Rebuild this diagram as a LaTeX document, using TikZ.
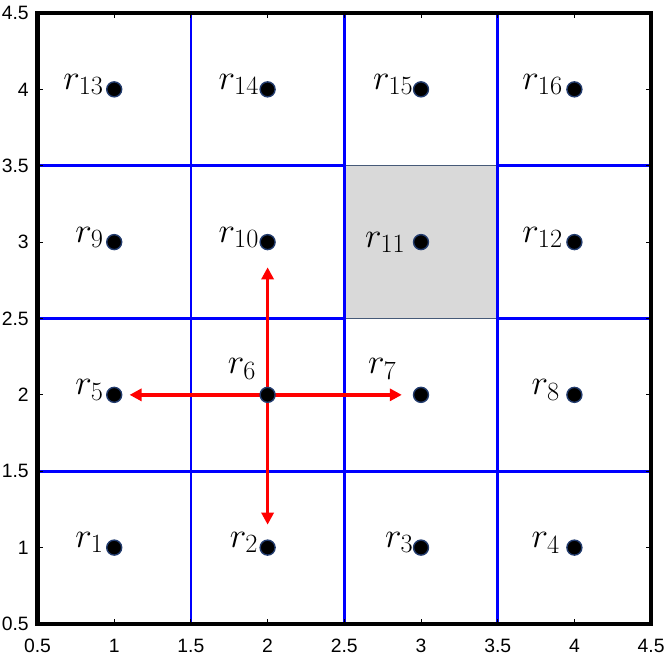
\RequirePackage{fix-cm}
\documentclass[tikz,border=0pt]{standalone}
\usepackage{fontspec}
\newfontfamily\axfont{Liberation Sans}
\usetikzlibrary{arrows.meta}
\definecolor{gridblue}{RGB}{0,0,255}
\definecolor{arrred}{RGB}{255,0,0}
\definecolor{dotedge}{RGB}{35,60,110}
\definecolor{boxfill}{RGB}{217,217,217}
\definecolor{boxedge}{RGB}{70,90,120}
\newcommand{\rl}[1]{$r_{\hbox{\fontsize{15}{17}\selectfont #1}}$}
\pgfdeclarelayer{bg}
\pgfsetlayers{bg,main}
\begin{document}
\begin{tikzpicture}[x=3.068cm,y=3.055cm,
  gridline/.style={draw=gridblue,line width=1.6pt},
  cellbox/.style={fill=boxfill,draw=boxedge,line width=0.6pt},
  redarrow/.style={draw=arrred,line width=1.9pt,-{Triangle[length=0.24cm,width=0.24cm]}},
  ptdot/.style={circle,fill=black,draw=dotedge,line width=0.8pt,minimum size=0.3cm,inner sep=0pt},
  lab/.style={inner sep=0pt,anchor=base east,font=\fontsize{20}{23}\selectfont},
  frame/.style={draw=black,line width=2.5pt},
  tick/.style={draw=black,line width=0.5pt},
  axlab/.style={inner sep=0pt,font=\axfont\fontsize{11}{13}\selectfont}]
\useasboundingbox (0.2555,0.2709) rectangle (4.5841,4.5851);

% points
\node[ptdot] (p1) at (1,1) {};
\node[ptdot] (p2) at (2,1) {};
\node[ptdot] (p3) at (3,1) {};
\node[ptdot] (p4) at (4,1) {};
\node[ptdot] (p5) at (1,2) {};
\node[ptdot] (p6) at (2,2) {};
\node[ptdot] (p7) at (3,2) {};
\node[ptdot] (p8) at (4,2) {};
\node[ptdot] (p9) at (1,3) {};
\node[ptdot] (p10) at (2,3) {};
\node[ptdot] (p11) at (3,3) {};
\node[ptdot] (p12) at (4,3) {};
\node[ptdot] (p13) at (1,4) {};
\node[ptdot] (p14) at (2,4) {};
\node[ptdot] (p15) at (3,4) {};
\node[ptdot] (p16) at (4,4) {};

\coordinate (aU) at (2,2.835);
\coordinate (aD) at (2,1.15);
\coordinate (aL) at (1.10,2);
\coordinate (aR) at (2.875,2);

\begin{pgfonlayer}{bg}
  \draw[cellbox] (2.5,2.5) rectangle (3.5,3.5);
  \draw[gridline] (0.5,1.5) -- (4.5,1.5);
  \draw[gridline] (0.5,2.5) -- (2.5,2.5);
  \draw[gridline] (3.5,2.5) -- (4.5,2.5);
  \draw[gridline] (0.5,3.5) -- (2.5,3.5);
  \draw[gridline] (3.5,3.5) -- (4.5,3.5);
  \foreach \v in {1.5,2.5,3.5} { \draw[gridline] (\v,0.5) -- (\v,4.5); }
  \draw[redarrow] (p6.center) -- (aU);
  \draw[redarrow] (p6.center) -- (aD);
  \draw[redarrow] (p6.center) -- (aL);
  \draw[redarrow] (p6.center) -- (aR);
\end{pgfonlayer}

% labels
\node[lab,xshift=-0.2cm] (l1) at (p1) {\rl{1}};
\node[lab,xshift=-0.18cm] (l2) at (p2) {\rl{2}};
\node[lab,xshift=-0.14cm] (l3) at (p3) {\rl{3}};
\node[lab,xshift=-0.28cm] (l4) at (p4) {\rl{4}};
\node[lab,xshift=-0.2cm] (l5) at (p5) {\rl{5}};
\node[lab,xshift=-0.22cm,yshift=0.42cm] (l6) at (p6) {\rl{6}};
\node[lab,xshift=-0.48cm,yshift=0.42cm] (l7) at (p7) {\rl{7}};
\node[lab,xshift=-0.28cm] (l8) at (p8) {\rl{8}};
\node[lab,xshift=-0.2cm] (l9) at (p9) {\rl{9}};
\node[lab,xshift=-0.16cm] (l10) at (p10) {\rl{10}};
\node[lab,xshift=-0.3cm,yshift=-0.1cm] (l11) at (p11) {\rl{11}};
\node[lab,xshift=-0.22cm] (l12) at (p12) {\rl{12}};
\node[lab,xshift=-0.2cm] (l13) at (p13) {\rl{13}};
\node[lab,xshift=-0.16cm] (l14) at (p14) {\rl{14}};
\node[lab,xshift=-0.14cm] (l15) at (p15) {\rl{15}};
\node[lab,xshift=-0.22cm] (l16) at (p16) {\rl{16}};

% frame and ticks
\foreach \v in {0.5,1,1.5,2,2.5,3,3.5,4,4.5} {
  \draw[tick] (\v,0.5) -- ++(0,0.1cm);
  \draw[tick] (\v,4.5) -- ++(0,-0.1cm);
  \draw[tick] (0.5,\v) -- ++(0.1cm,0);
  \draw[tick] (4.5,\v) -- ++(-0.1cm,0);
}
\draw[frame] (0.5,0.5) rectangle (4.5,4.5);

\foreach \v [count=\i] in {0.5,1,1.5,2,2.5,3,3.5,4,4.5} {
  \node[axlab,anchor=center,yshift=-0.44cm] (xl\i) at (\v,0.5) {\v};
  \node[axlab,anchor=east,xshift=-0.17cm] (yl\i) at (0.5,\v) {\v};
}
\end{tikzpicture}
\end{document}
